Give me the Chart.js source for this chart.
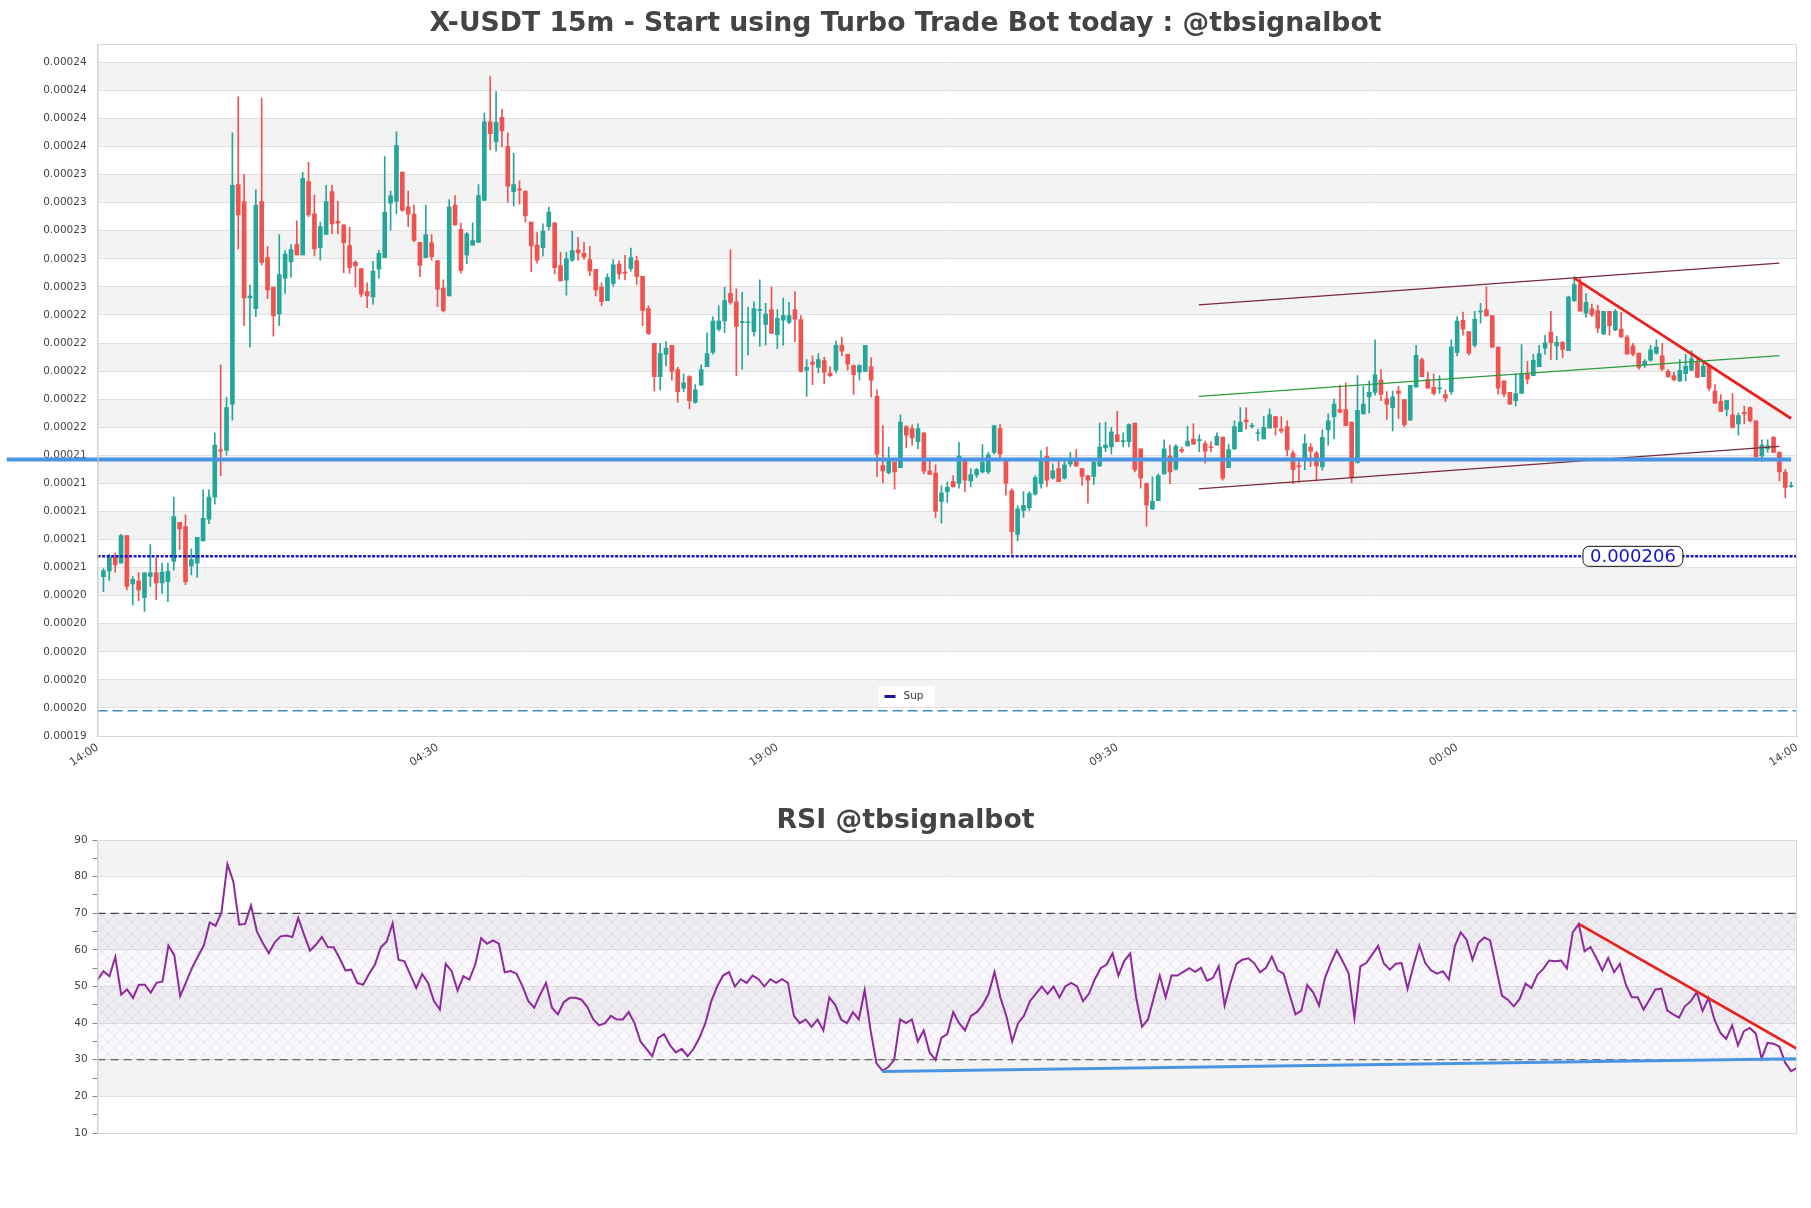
<!DOCTYPE html>
<html>
<head>
<meta charset="utf-8">
<script src="https://cdn.jsdelivr.net/npm/chart.js@4.4.0/dist/chart.umd.min.js"></script>
<style>
html, body { margin: 0; padding: 0; background: #fff; }
#wrap { position: relative; width: 1811px; height: 1208px; }
#mainBox { position: absolute; left: 0; top: 0; width: 1811px; height: 790px; }
#rsiBox { position: absolute; left: 0; top: 790px; width: 1811px; height: 418px; }
</style>
</head>
<body>
<div id="wrap">
  <div id="mainBox"><canvas id="mainChart"></canvas></div>
  <div id="rsiBox"><canvas id="rsiChart"></canvas></div>
</div>
<script>
// --- DATA ---
const opens = [0.00020535,0.00020576,0.00020675,0.00020632,0.00020828,0.00020484,0.00020504,0.00020385,0.00020537,0.00020563,0.00020491,0.00020499,0.00020644,0.00020922,0.00020892,0.00020611,0.00020632,0.00020789,0.00020945,0.00021102,0.00021439,0.00021434,0.00021764,0.00023329,0.00023207,0.00022522,0.00022444,0.00023207,0.00022808,0.00022599,0.00022408,0.00022662,0.00022777,0.00022902,0.00022828,0.00023350,0.00023121,0.00022879,0.00022973,0.00023278,0.00023067,0.00023042,0.00022894,0.00022774,0.00022731,0.00022566,0.00022528,0.00022726,0.00022808,0.00023197,0.00023210,0.00023418,0.00023171,0.00023118,0.00022917,0.00022808,0.00022914,0.00022787,0.00022591,0.00022535,0.00023182,0.00023009,0.00022828,0.00022897,0.00022917,0.00023215,0.00023775,0.00023635,0.00023808,0.00023602,0.00023278,0.00023299,0.00023283,0.00023062,0.00022897,0.00022879,0.00023029,0.00023057,0.00022752,0.00022647,0.00022790,0.00022863,0.00022838,0.00022795,0.00022724,0.00022599,0.00022502,0.00022624,0.00022762,0.00022703,0.00022731,0.00022787,0.00022675,0.00022446,0.00022197,0.00021960,0.00022120,0.00022184,0.00022011,0.00021879,0.00021960,0.00021777,0.00021899,0.00022031,0.00022133,0.00022299,0.00022357,0.00022553,0.00022494,0.00022344,0.00022344,0.00022281,0.00022433,0.00022332,0.00022439,0.00022260,0.00022362,0.00022349,0.00022439,0.00022367,0.00022006,0.00022064,0.00022026,0.00022075,0.00021986,0.00022006,0.00022184,0.00022120,0.00022039,0.00021993,0.00021998,0.00022031,0.00021820,0.00021327,0.00021276,0.00021352,0.00021311,0.00021604,0.00021591,0.00021497,0.00021560,0.00021289,0.00021273,0.00021072,0.00021141,0.00021212,0.00021199,0.00021370,0.00021217,0.00021260,0.00021281,0.00021281,0.00021421,0.00021591,0.00021375,0.00021148,0.00020836,0.00021008,0.00021026,0.00021123,0.00021197,0.00021395,0.00021237,0.00021306,0.00021237,0.00021337,0.00021365,0.00021306,0.00021255,0.00021250,0.00021324,0.00021452,0.00021459,0.00021548,0.00021497,0.00021497,0.00021629,0.00021446,0.00021199,0.00021018,0.00021077,0.00021268,0.00021395,0.00021301,0.00021441,0.00021467,0.00021515,0.00021505,0.00021484,0.00021459,0.00021472,0.00021530,0.00021311,0.00021446,0.00021568,0.00021650,0.00021606,0.00021555,0.00021517,0.00021594,0.00021675,0.00021586,0.00021604,0.00021416,0.00021327,0.00021378,0.00021459,0.00021416,0.00021319,0.00021581,0.00021675,0.00021726,0.00021726,0.00021637,0.00021349,0.00021695,0.00021815,0.00021848,0.00021935,0.00021802,0.00021739,0.00021858,0.00021797,0.00021650,0.00021886,0.00022082,0.00021942,0.00021884,0.00021874,0.00021833,0.00021853,0.00022133,0.00022362,0.00022281,0.00022184,0.00022421,0.00022439,0.00022395,0.00022171,0.00021930,0.00021848,0.00021790,0.00021840,0.00021981,0.00021968,0.00022031,0.00022164,0.00022278,0.00022179,0.00022204,0.00022146,0.00022502,0.00022624,0.00022413,0.00022444,0.00022431,0.00022265,0.00022426,0.00022293,0.00022299,0.00022243,0.00022179,0.00022128,0.00022044,0.00022077,0.00022128,0.00022108,0.00021998,0.00021968,0.00021930,0.00021981,0.00022006,0.00022064,0.00021960,0.00022036,0.00021858,0.00021782,0.00021726,0.00021688,0.00021624,0.00021706,0.00021739,0.00021645,0.00021395,0.00021446,0.00021528,0.00021421,0.00021281,0.00021179];
const highs = [0.00020593,0.00020695,0.00020703,0.00020836,0.00020828,0.00020535,0.00020565,0.00020563,0.00020764,0.00020670,0.00020632,0.00020632,0.00021102,0.00020922,0.00020975,0.00020733,0.00020815,0.00021153,0.00021153,0.00021560,0.00022044,0.00021815,0.00023698,0.00023953,0.00023401,0.00022612,0.00023291,0.00023945,0.00022889,0.00022599,0.00022973,0.00022858,0.00022902,0.00023070,0.00023416,0.00023487,0.00023253,0.00023062,0.00023324,0.00023324,0.00023210,0.00023042,0.00023024,0.00022787,0.00022731,0.00022629,0.00022782,0.00022858,0.00023528,0.00023283,0.00023706,0.00023418,0.00023283,0.00023184,0.00022917,0.00023182,0.00022973,0.00022787,0.00022650,0.00023222,0.00023250,0.00023054,0.00022986,0.00023057,0.00023329,0.00023838,0.00024098,0.00023991,0.00023864,0.00023698,0.00023551,0.00023355,0.00023283,0.00023062,0.00022986,0.00023049,0.00023169,0.00023057,0.00022846,0.00022846,0.00022998,0.00022953,0.00022917,0.00022889,0.00022724,0.00022629,0.00022693,0.00022795,0.00022787,0.00022825,0.00022876,0.00022820,0.00022675,0.00022464,0.00022197,0.00022197,0.00022210,0.00022184,0.00022026,0.00021981,0.00021968,0.00021904,0.00022044,0.00022273,0.00022388,0.00022464,0.00022596,0.00022863,0.00022586,0.00022561,0.00022456,0.00022494,0.00022650,0.00022482,0.00022599,0.00022439,0.00022520,0.00022489,0.00022566,0.00022395,0.00022082,0.00022108,0.00022125,0.00022100,0.00022031,0.00022215,0.00022240,0.00022120,0.00022044,0.00022044,0.00022184,0.00022095,0.00021866,0.00021611,0.00021459,0.00021352,0.00021688,0.00021611,0.00021616,0.00021624,0.00021560,0.00021365,0.00021332,0.00021184,0.00021209,0.00021255,0.00021492,0.00021370,0.00021306,0.00021306,0.00021477,0.00021421,0.00021611,0.00021619,0.00021375,0.00021161,0.00021039,0.00021141,0.00021141,0.00021255,0.00021434,0.00021459,0.00021339,0.00021370,0.00021357,0.00021421,0.00021441,0.00021306,0.00021255,0.00021357,0.00021629,0.00021637,0.00021599,0.00021713,0.00021560,0.00021624,0.00021629,0.00021446,0.00021204,0.00021247,0.00021268,0.00021510,0.00021472,0.00021477,0.00021459,0.00021606,0.00021624,0.00021548,0.00021502,0.00021497,0.00021560,0.00021530,0.00021479,0.00021645,0.00021739,0.00021739,0.00021629,0.00021586,0.00021675,0.00021731,0.00021675,0.00021675,0.00021645,0.00021434,0.00021370,0.00021548,0.00021484,0.00021429,0.00021581,0.00021695,0.00021802,0.00021899,0.00021917,0.00021637,0.00021968,0.00021891,0.00021930,0.00022222,0.00022011,0.00021853,0.00021858,0.00021891,0.00021797,0.00021899,0.00022184,0.00022095,0.00021993,0.00021981,0.00021968,0.00021866,0.00022222,0.00022388,0.00022421,0.00022281,0.00022426,0.00022482,0.00022601,0.00022395,0.00022171,0.00021930,0.00021848,0.00021981,0.00022189,0.00022070,0.00022120,0.00022184,0.00022255,0.00022426,0.00022248,0.00022210,0.00022535,0.00022673,0.00022662,0.00022553,0.00022477,0.00022469,0.00022426,0.00022426,0.00022439,0.00022418,0.00022255,0.00022197,0.00022128,0.00022082,0.00022184,0.00022222,0.00022197,0.00022011,0.00021993,0.00022082,0.00022120,0.00022146,0.00022095,0.00022057,0.00022044,0.00021904,0.00021833,0.00021790,0.00021840,0.00021700,0.00021751,0.00021746,0.00021645,0.00021510,0.00021510,0.00021535,0.00021426,0.00021298,0.00021209];
const lows = [0.00020428,0.00020509,0.00020568,0.00020632,0.00020441,0.00020334,0.00020365,0.00020288,0.00020466,0.00020372,0.00020415,0.00020357,0.00020581,0.00020728,0.00020479,0.00020548,0.00020530,0.00020789,0.00020912,0.00021051,0.00021255,0.00021401,0.00021650,0.00022871,0.00022324,0.00022171,0.00022388,0.00022757,0.00022515,0.00022248,0.00022324,0.00022553,0.00022668,0.00022828,0.00022828,0.00023100,0.00022820,0.00022790,0.00022973,0.00022978,0.00022978,0.00022701,0.00022698,0.00022599,0.00022528,0.00022451,0.00022477,0.00022662,0.00022808,0.00023003,0.00023121,0.00023138,0.00023029,0.00022922,0.00022673,0.00022808,0.00022790,0.00022459,0.00022421,0.00022535,0.00023037,0.00022698,0.00022764,0.00022897,0.00022917,0.00023215,0.00023576,0.00023566,0.00023597,0.00023202,0.00023177,0.00023189,0.00023062,0.00022706,0.00022769,0.00022820,0.00023003,0.00022693,0.00022642,0.00022540,0.00022782,0.00022790,0.00022795,0.00022680,0.00022535,0.00022464,0.00022502,0.00022604,0.00022655,0.00022650,0.00022711,0.00022617,0.00022324,0.00022260,0.00021858,0.00021866,0.00022036,0.00021935,0.00021777,0.00021853,0.00021731,0.00021772,0.00021899,0.00022031,0.00022120,0.00022286,0.00022273,0.00022477,0.00021968,0.00022011,0.00022115,0.00022248,0.00022176,0.00022184,0.00022268,0.00022159,0.00022184,0.00022337,0.00022210,0.00021993,0.00021820,0.00021904,0.00021986,0.00021909,0.00021960,0.00021986,0.00022108,0.00022006,0.00021833,0.00021935,0.00021998,0.00021815,0.00021247,0.00021204,0.00021268,0.00021158,0.00021311,0.00021452,0.00021472,0.00021446,0.00021268,0.00021263,0.00020955,0.00020917,0.00021064,0.00021174,0.00021166,0.00021141,0.00021174,0.00021242,0.00021273,0.00021268,0.00021408,0.00021383,0.00021115,0.00020695,0.00020789,0.00020957,0.00021008,0.00021115,0.00021166,0.00021179,0.00021230,0.00021212,0.00021230,0.00021319,0.00021319,0.00021186,0.00021059,0.00021192,0.00021319,0.00021426,0.00021408,0.00021497,0.00021459,0.00021459,0.00021281,0.00021166,0.00020894,0.00021013,0.00021077,0.00021268,0.00021197,0.00021294,0.00021416,0.00021467,0.00021477,0.00021426,0.00021344,0.00021426,0.00021472,0.00021222,0.00021311,0.00021441,0.00021568,0.00021586,0.00021594,0.00021502,0.00021517,0.00021594,0.00021543,0.00021560,0.00021395,0.00021197,0.00021209,0.00021298,0.00021319,0.00021217,0.00021294,0.00021472,0.00021517,0.00021706,0.00021611,0.00021204,0.00021344,0.00021695,0.00021700,0.00021828,0.00021790,0.00021655,0.00021573,0.00021662,0.00021604,0.00021650,0.00021886,0.00021960,0.00021879,0.00021828,0.00021840,0.00021782,0.00021833,0.00022108,0.00022255,0.00022113,0.00022171,0.00022342,0.00022393,0.00022171,0.00021835,0.00021815,0.00021764,0.00021751,0.00021840,0.00021909,0.00021968,0.00022031,0.00022120,0.00022082,0.00022082,0.00022095,0.00022146,0.00022497,0.00022426,0.00022383,0.00022388,0.00022273,0.00022260,0.00022255,0.00022286,0.00022240,0.00022120,0.00022108,0.00022011,0.00022026,0.00022070,0.00022120,0.00022001,0.00021955,0.00021930,0.00021924,0.00021930,0.00022001,0.00021955,0.00021960,0.00021858,0.00021772,0.00021713,0.00021680,0.00021594,0.00021543,0.00021624,0.00021637,0.00021383,0.00021357,0.00021421,0.00021421,0.00021217,0.00021097,0.00021171];
const closes = [0.00020576,0.00020675,0.00020619,0.00020828,0.00020466,0.00020517,0.00020441,0.00020563,0.00020563,0.00020491,0.00020568,0.00020573,0.00020963,0.00020876,0.00020499,0.00020657,0.00020815,0.00020950,0.00021102,0.00021472,0.00021429,0.00021739,0.00023324,0.00023113,0.00022522,0.00022535,0.00023182,0.00022774,0.00022579,0.00022393,0.00022688,0.00022833,0.00022866,0.00022828,0.00023373,0.00023113,0.00022871,0.00023029,0.00023207,0.00023049,0.00023054,0.00022914,0.00022736,0.00022749,0.00022548,0.00022535,0.00022713,0.00022838,0.00023131,0.00023248,0.00023609,0.00023146,0.00023118,0.00022930,0.00022752,0.00022973,0.00022815,0.00022584,0.00022431,0.00023171,0.00023042,0.00022718,0.00022978,0.00022930,0.00023250,0.00023775,0.00023691,0.00023772,0.00023711,0.00023317,0.00023329,0.00023289,0.00023105,0.00022891,0.00022790,0.00022998,0.00023133,0.00022736,0.00022642,0.00022802,0.00022858,0.00022841,0.00022813,0.00022713,0.00022579,0.00022494,0.00022668,0.00022757,0.00022693,0.00022698,0.00022808,0.00022675,0.00022433,0.00022268,0.00021960,0.00022125,0.00022164,0.00021998,0.00021853,0.00021917,0.00021790,0.00021866,0.00022011,0.00022125,0.00022357,0.00022357,0.00022502,0.00022489,0.00022319,0.00022355,0.00022349,0.00022446,0.00022439,0.00022406,0.00022268,0.00022375,0.00022395,0.00022395,0.00022370,0.00021998,0.00022026,0.00022049,0.00022082,0.00021993,0.00021968,0.00022184,0.00022141,0.00022049,0.00021975,0.00022039,0.00022184,0.00021935,0.00021408,0.00021289,0.00021378,0.00021281,0.00021637,0.00021543,0.00021523,0.00021591,0.00021286,0.00021263,0.00021001,0.00021133,0.00021171,0.00021174,0.00021395,0.00021222,0.00021263,0.00021298,0.00021349,0.00021403,0.00021611,0.00021408,0.00021199,0.00020855,0.00021018,0.00021044,0.00021128,0.00021242,0.00021375,0.00021222,0.00021289,0.00021212,0.00021332,0.00021370,0.00021324,0.00021250,0.00021222,0.00021349,0.00021459,0.00021472,0.00021568,0.00021497,0.00021505,0.00021619,0.00021298,0.00021237,0.00021044,0.00021072,0.00021255,0.00021446,0.00021281,0.00021464,0.00021429,0.00021502,0.00021479,0.00021510,0.00021429,0.00021454,0.00021535,0.00021237,0.00021441,0.00021604,0.00021637,0.00021637,0.00021611,0.00021560,0.00021599,0.00021688,0.00021599,0.00021573,0.00021439,0.00021298,0.00021319,0.00021484,0.00021429,0.00021324,0.00021528,0.00021645,0.00021764,0.00021708,0.00021611,0.00021242,0.00021721,0.00021764,0.00021848,0.00021973,0.00021833,0.00021764,0.00021815,0.00021840,0.00021619,0.00021899,0.00022113,0.00021960,0.00021879,0.00021840,0.00021879,0.00021807,0.00022171,0.00022357,0.00022299,0.00022128,0.00022370,0.00022426,0.00022393,0.00022171,0.00021879,0.00021835,0.00021764,0.00021840,0.00021981,0.00021942,0.00022077,0.00022125,0.00022202,0.00022202,0.00022204,0.00022154,0.00022528,0.00022617,0.00022426,0.00022489,0.00022400,0.00022306,0.00022426,0.00022324,0.00022426,0.00022243,0.00022120,0.00022120,0.00022026,0.00022070,0.00022151,0.00022171,0.00022014,0.00021960,0.00021937,0.00022006,0.00022036,0.00022087,0.00021955,0.00022036,0.00021879,0.00021772,0.00021713,0.00021790,0.00021599,0.00021683,0.00021695,0.00021645,0.00021390,0.00021472,0.00021467,0.00021421,0.00021281,0.00021171,0.00021186];

const rsiValues = [51.9,54.2,52.8,58.1,47.8,49.2,46.9,50.5,50.5,48.3,51.0,51.4,61.2,58.5,47.4,51.2,55.1,58.2,61.2,67.5,66.6,70.3,83.4,78.7,66.9,67.1,72.1,65.0,61.9,59.1,62.0,63.7,63.9,63.5,68.7,64.1,59.8,61.4,63.5,60.8,60.7,57.8,54.4,54.6,51.0,50.5,53.4,56.0,60.7,62.3,67.3,57.3,56.9,53.2,49.6,53.4,51.0,46.0,43.7,56.2,54.2,48.9,52.8,51.9,56.0,63.2,61.7,62.6,61.7,53.9,54.2,53.5,50.1,46.0,44.2,47.8,51.0,44.2,42.4,45.7,46.9,46.9,46.4,44.4,41.0,39.4,40,42,41,41,43,40,35,33,31,36,37,34,32,33,31,33,36,40,46,50,53,54,50,52,51,53,52,50,52,51,52,51,42,40,41,39,41,38,47,45,41,40,43,41,49,38,29,27,28,30,41,40,41,35,38,32,30,36,37,43,40,38,42,43,45,48,54,47,42,35,40,42,46,48,50,48,50,47,50,51,50,46,48,52,55,56,59,53,57,59,47,39,41,47,53,47,53,53,54,55,54,55.1,51.6,52.3,55.5,44.8,51.0,56.2,57.3,57.7,56.4,53.9,55.1,58.2,54.4,53.5,47.8,42.4,43.4,50.4,48.4,44.8,52.3,56.4,59.9,56.9,53.7,41.5,55.5,56.4,58.7,61.1,56.2,54.6,56.2,56.4,49.4,55.7,61.2,56.4,54.4,53.5,54.2,51.9,61.0,64.8,62.8,57.3,61.9,63.4,62.6,55.1,47.5,46.4,44.6,46.6,50.8,49.6,53.2,54.8,57.1,56.9,57.1,54.9,64.8,67.1,59.6,60.8,57.8,54.4,57.8,53.9,56.2,50.5,47.1,47.1,43.7,46.4,49.2,49.4,43.5,42.4,41.5,44.6,46.0,48.4,43.3,46.9,41.0,37.4,35.7,39.4,33.9,37.8,38.7,37.2,30.3,34.6,34.4,33.6,29.2,26.9,27.8];

const yTicks = [0.000194,0.000196,0.000198,0.000200,0.000202,0.000204,0.000206,0.000208,0.000210,0.000212,0.000214,0.000216,0.000218,0.000220,0.000222,0.000224,0.000226,0.000228,0.000230,0.000232,0.000234,0.000236,0.000238,0.000240,0.000242];
const xTickPos = [-1, 57, 115, 173, 231, 289];
const xTickLabels = ['14:00', '04:30', '19:00', '09:30', '00:00', '14:00'];
const rsiTicks = [10, 20, 30, 40, 50, 60, 70, 80, 90];

// levels and drawn lines
const levelX = [-16.5, 288];
const levelY = 0.0002137;
const supLevel = 0.0002068;
const supLabelX = 261;
const lowLevel = 0.0001958;
const channelX = [186.9, 286.0];
const channelUpper = [0.00022472, 0.00022769];
const channelMid = [0.00021820, 0.00022110];
const channelLower = [0.00021161, 0.00021463];
const trendX = [251, 288];
const trendY = [0.00022662, 0.00021662];
const rsiTrendX = [251, 288];
const rsiTrendY = [67.1, 33.0];
const rsiSupX = [133, 288];
const rsiSupY = [26.8, 30.3];

// --- STYLE ---
const GREEN = '#26a69a';
const RED = '#ef5350';
const FONT = "'DejaVu Sans', 'Noto Sans', sans-serif";
Chart.defaults.font.family = FONT;
Chart.defaults.color = '#444';
Chart.defaults.animation = false;

const pts = (xs, ys) => xs.map((x, i) => ({ x: x, y: ys[i] }));
const lineDs = (data, color, width, extra) => Object.assign({
    type: 'line', data: data, borderColor: color, borderWidth: width,
    pointRadius: 0, fill: false, tension: 0, order: 0
}, extra || {});

// alternating bands + frame
const bandPlugin = {
    id: 'bands',
    beforeDraw(chart, args, opts) {
        const { ctx, chartArea: a, scales: { y } } = chart;
        const t = opts.ticks;
        ctx.save();
        ctx.fillStyle = '#f3f3f3';
        for (let k = 0; k < t.length - 1; k++) {
            if (k % 2 !== 1) continue;
            const top = y.getPixelForValue(t[k + 1]);
            const bot = y.getPixelForValue(t[k]);
            ctx.fillRect(a.left, top, a.right - a.left, bot - top);
        }
        ctx.restore();
    },
    afterDraw(chart) {
        const { ctx, chartArea: a } = chart;
        ctx.save();
        ctx.strokeStyle = '#d8d8d8';
        ctx.lineWidth = 1;
        ctx.strokeRect(a.left + 0.5, a.top + 0.5, a.right - a.left - 1, a.bottom - a.top);
        ctx.restore();
    }
};

// --- MAIN CANDLE CHART ---
const idx = opens.map((_, i) => i);
const candleColor = idx.map(i => closes[i] >= opens[i] ? GREEN : RED);

const mainPlugins = {
    id: 'mainExtras',
    afterDatasetsDraw(chart) {
        const { ctx, scales: { x, y } } = chart;
        // label on the support line
        const text = (Math.floor(supLevel * 1e6) / 1e6).toFixed(6);
        ctx.save();
        ctx.font = '18px ' + FONT;
        const w = ctx.measureText(text).width + 14;
        const cx = x.getPixelForValue(supLabelX), cy = y.getPixelForValue(supLevel);
        ctx.beginPath();
        ctx.roundRect(cx - w / 2, cy - 10, w, 20, 6);
        ctx.fillStyle = '#fff';
        ctx.fill();
        ctx.strokeStyle = '#111';
        ctx.lineWidth = 1;
        ctx.stroke();
        ctx.fillStyle = '#1414c8';
        ctx.textAlign = 'center';
        ctx.textBaseline = 'middle';
        ctx.fillText(text, cx, cy + 1);
        ctx.restore();
    },
    afterDraw(chart) {
        // legend box inside the plot
        const { ctx, chartArea: a } = chart;
        const cx = chart.width / 2, cy = a.bottom - 40;
        ctx.save();
        ctx.fillStyle = '#fff';
        ctx.fillRect(cx - 27, cy - 10, 56, 21);
        ctx.fillStyle = '#1a1a9c';
        ctx.fillRect(cx - 21, cy - 1, 11, 3);
        ctx.font = '10.5px ' + FONT;
        ctx.fillStyle = '#333';
        ctx.textBaseline = 'middle';
        ctx.fillText('Sup', cx - 2, cy);
        ctx.restore();
    }
};

new Chart(document.getElementById('mainChart'), {
    type: 'bar',
    data: {
        datasets: [
            { label: 'wick', data: idx.map(i => ({ x: i, y: [lows[i], highs[i]] })), backgroundColor: candleColor, barThickness: 1, grouped: false, order: 2 },
            { label: 'body', data: idx.map(i => ({ x: i, y: [opens[i], closes[i]] })), backgroundColor: candleColor, barThickness: 4, grouped: false, minBarLength: 1, order: 1 },
            lineDs(pts(levelX, [levelY, levelY]), '#4a94e4', 4, { clip: false }),
            lineDs(pts([-1, 289], [supLevel, supLevel]), '#1a1ac0', 2.5, { borderDash: [3, 1.5], label: 'Sup' }),
            lineDs(pts([-1, 289], [lowLevel, lowLevel]), '#3a8cc4', 1.4, { borderDash: [10, 5] }),
            lineDs(pts(channelX, channelUpper), '#7a2a3a', 1.2),
            lineDs(pts(channelX, channelMid), '#2e9a3e', 1.2),
            lineDs(pts(channelX, channelLower), '#7a2a3a', 1.2),
            lineDs(pts(trendX, trendY), '#e8231f', 2.8)
        ]
    },
    options: {
        responsive: true,
        maintainAspectRatio: false,
        layout: { padding: { left: 14, right: 14, top: 0, bottom: 0 } },
        plugins: {
            legend: { display: false },
            tooltip: { enabled: false },
            title: {
                display: true,
                text: 'X-USDT 15m - Start using Turbo Trade Bot today : @tbsignalbot',
                color: '#444',
                font: { size: 26.7, weight: 'bold' },
                padding: { top: 8.3, bottom: 3.7 }
            },
            bands: { ticks: yTicks }
        },
        scales: {
            x: {
                type: 'linear', min: -1, max: 289, offset: false,
                grid: { display: false, drawTicks: false },
                border: { color: '#d0d0d0' },
                afterBuildTicks: s => { s.ticks = xTickPos.map(v => ({ value: v })); },
                afterFit: s => { s.height = 54; },
                ticks: {
                    autoSkip: false, minRotation: 33, maxRotation: 33, padding: 5,
                    font: { size: 11 }, color: '#444',
                    callback: (v, i) => xTickLabels[i]
                }
            },
            y: {
                min: 0.000194, max: 0.0002433,
                grid: { color: '#e0e0e0', tickColor: 'rgba(0,0,0,0)', tickLength: 8 },
                border: { color: '#d0d0d0' },
                afterBuildTicks: s => { s.ticks = yTicks.map(v => ({ value: v })); },
                afterFit: s => { s.width = 83.6; },
                ticks: { autoSkip: false, font: { size: 10.5 }, color: '#444', padding: 3, callback: v => v.toFixed(5) }
            }
        }
    },
    plugins: [bandPlugin, mainPlugins]
});

// --- RSI CHART ---
function hatchPattern() {
    const c = document.createElement('canvas');
    c.width = 12; c.height = 12;
    const g = c.getContext('2d');
    g.fillStyle = 'rgba(190,160,210,0.07)';
    g.fillRect(0, 0, 12, 12);
    g.strokeStyle = 'rgba(150,150,170,0.28)';
    g.lineWidth = 0.7;
    g.beginPath();
    g.moveTo(0, 0); g.lineTo(12, 12);
    g.moveTo(12, 0); g.lineTo(0, 12);
    g.stroke();
    return g.createPattern(c, 'repeat');
}

const hatchPlugin = {
    id: 'hatch',
    beforeDatasetsDraw(chart) {
        const { ctx, chartArea: a, scales: { y } } = chart;
        const top = y.getPixelForValue(70), bot = y.getPixelForValue(30);
        ctx.save();
        ctx.fillStyle = hatchPattern();
        ctx.fillRect(a.left, top, a.right - a.left, bot - top);
        ctx.restore();
    }
};

const rsiIdx = rsiValues.map((_, j) => j);
new Chart(document.getElementById('rsiChart'), {
    type: 'line',
    data: {
        datasets: [
            lineDs(rsiIdx.map(j => ({ x: j, y: rsiValues[j] })), '#8e2a9c', 2, { order: 2 }),
            lineDs(pts([0, 288], [70, 70]), '#444', 1.2, { borderDash: [8, 5], order: 3 }),
            lineDs(pts([0, 288], [30, 30]), '#444', 1.2, { borderDash: [8, 5], order: 3 }),
            lineDs(pts(rsiSupX, rsiSupY), '#4a94e4', 3, { order: 1 }),
            lineDs(pts(rsiTrendX, rsiTrendY), '#e8231f', 2.8, { order: 0 })
        ]
    },
    options: {
        responsive: true,
        maintainAspectRatio: false,
        layout: { padding: { left: 14, right: 14, top: 0, bottom: 75 } },
        plugins: {
            legend: { display: false },
            tooltip: { enabled: false },
            title: {
                display: true,
                text: 'RSI @tbsignalbot',
                color: '#444',
                font: { size: 26.7, weight: 'bold' },
                padding: { top: 15.3, bottom: 2.7 }
            },
            bands: { ticks: rsiTicks }
        },
        scales: {
            x: { type: 'linear', min: 0, max: 288, display: false },
            y: {
                min: 10, max: 90,
                grid: {
                    color: c => (c.tick && c.tick.value % 10 === 0) ? '#e0e0e0' : 'rgba(0,0,0,0)',
                    tickColor: '#888', tickLength: 5
                },
                border: { color: '#d0d0d0' },
                afterFit: s => { s.width = 83.6; },
                ticks: { stepSize: 5, autoSkip: false, font: { size: 10.5 }, color: '#444', padding: 5,
                    callback: v => (v % 10 === 0 ? v : '') }
            }
        }
    },
    plugins: [bandPlugin, hatchPlugin]
});
</script>
</body>
</html>
